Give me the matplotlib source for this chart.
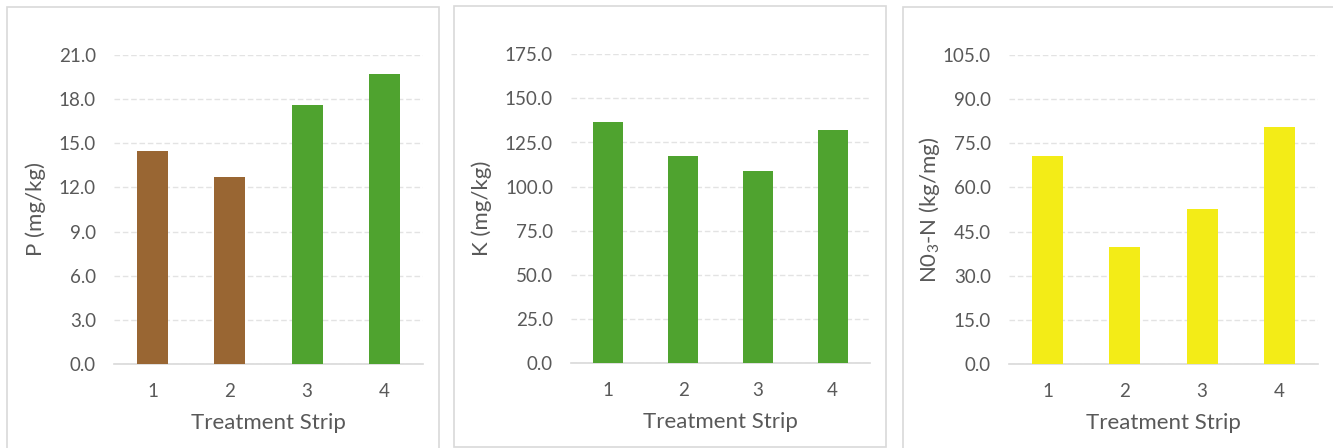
import matplotlib.pyplot as plt
from matplotlib.patches import Rectangle

plt.rcParams['font.family'] = ['Lato', 'DejaVu Sans']
plt.rcParams['mathtext.default'] = 'regular'

strips = [1, 2, 3, 4]
p_vals = [14.5, 12.7, 17.6, 19.7]
k_vals = [136.4, 117.2, 108.8, 131.9]
n_vals = [70.8, 39.6, 52.8, 80.4]

brown = '#996633'
green = '#4FA32F'
yellow = '#F3EC17'
p_colors = [brown, brown, green, green]
k_colors = [green] * 4
n_colors = [yellow] * 4

text_col = '#595959'
grid_col = '#E3E3E3'

fig = plt.figure(figsize=(13.33, 4.48), dpi=100)
W, H = 1333, 448

# chart borders (pixel boxes: left, top, right, bottom)
for l, t, r, b in [(7, 7, 439.5, 460), (454, 6, 886, 447), (903, 7, 1345, 460)]:
    fig.add_artist(Rectangle((l / W, 1 - b / H), (r - l) / W, (b - t) / H,
                             transform=fig.transFigure, fill=False,
                             edgecolor='#D9D9D9', linewidth=1.2))

# plot box in pixels, values, colours, y max, y step, y title, y title x centre
panels = [
    ((114, 55, 423, 364), p_vals, p_colors, 21.0, 3.0, 'P (mg/kg)', 36),
    ((571, 54.3, 870, 363), k_vals, k_colors, 175.0, 25.0, 'K (mg/kg)', 482),
    ((1009, 55, 1318, 364), n_vals, n_colors, 105.0, 15.0, 'N0$_3$-N (kg/mg)', 929),
]

for (l, t, r, b), vals, cols, top, step, ylab, labx in panels:
    ax = fig.add_axes([l / W, 1 - b / H, (r - l) / W, (b - t) / H])
    ax.bar(strips, vals, width=0.4, color=cols, zorder=3)
    ax.set_xlim(0.5, 4.5)
    ax.set_ylim(0, top)
    ticks = [i * step for i in range(8)]
    ax.set_yticks(ticks)
    ax.set_yticklabels(['%.1f' % v for v in ticks])
    ax.set_xticks(strips)
    ax.set_xticklabels([str(s) for s in strips])
    ax.yaxis.grid(True, color=grid_col, linestyle=(0, (4, 2)), linewidth=1, zorder=0)
    for s in ['top', 'right', 'left']:
        ax.spines[s].set_visible(False)
    ax.spines['bottom'].set_color('#D9D9D9')
    ax.spines['bottom'].set_linewidth(1.2)
    ax.tick_params(length=0, labelsize=13.5, colors=text_col, pad=13)
    ax.tick_params(axis='x', pad=14)
    ax.set_xlabel('Treatment Strip', fontsize=16, color=text_col, labelpad=9)
    ax.set_ylabel(ylab, fontsize=16, color=text_col, va='center')
    ax.yaxis.set_label_coords(labx / W, 1 - (t + b) / 2 / H, transform=fig.transFigure)

fig.savefig('out.png', dpi=100)
